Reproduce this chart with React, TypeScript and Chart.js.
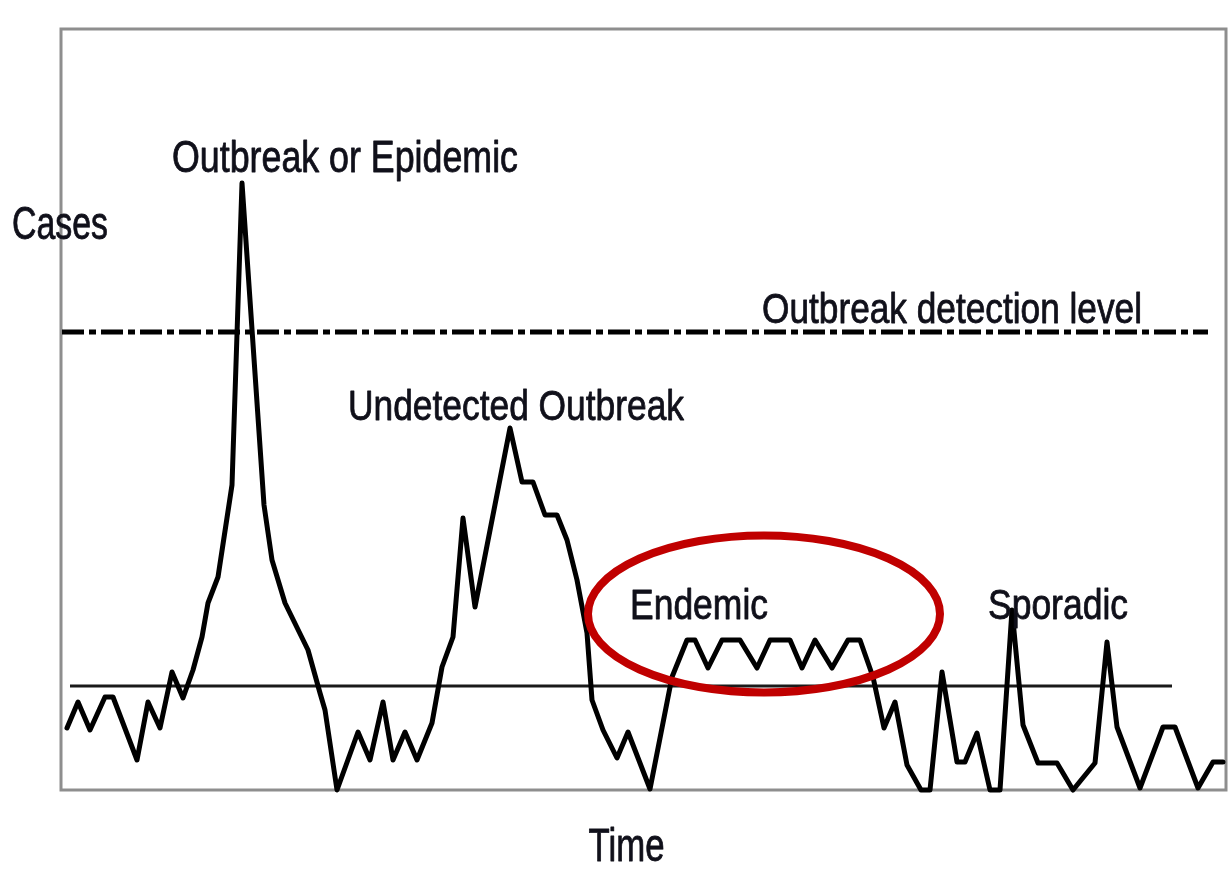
import React, { useEffect, useRef } from "react";
import { Chart, registerables } from "chart.js";

Chart.register(...registerables);

// Time (arbitrary units) and number of cases
const timeValues = [
  0.6, 1.7, 2.9, 4.4, 5.2, 7.6, 8.7, 9.9, 11.1, 12.2, 13.2, 14.1, 14.7, 15.7, 17.1, 18.1,
  20.3, 21.1, 22.4, 24.7, 25.9, 26.4, 27.6, 29.7, 30.9, 32.2, 33.2, 34.4, 35.6, 37.1, 38.1,
  39.2, 40.2, 41.4, 44.9, 46.1, 47.2, 48.4, 49.6, 50.6, 51.6, 52.6, 53.1, 54.2, 55.6, 56.7,
  58.9, 61.1, 62.6, 63.4, 64.7, 66.1, 67.9, 69.6, 70.9, 72.9, 74.1, 75.4, 77.1, 78.7, 79.9,
  81.2, 82.3, 83.4, 84.6, 86.0, 86.9, 88.1, 89.6, 90.4, 91.6, 92.9, 93.9, 95.1, 96.2, 97.7,
  99.6, 101.2, 103.4, 104.6, 105.6, 107.9, 110.2, 111.4, 113.7, 115.2, 116.2,
];
const caseValues = [
  6.2, 8.8, 6.0, 9.3, 9.3, 3.0, 8.8, 6.2, 11.8, 9.2, 12.0, 15.3, 18.7, 21.3, 30.5, 60.7,
  28.5, 23.0, 18.7, 14.0, 9.7, 8.0, 0.0, 5.8, 3.0, 8.8, 3.0, 5.8, 3.0, 6.7, 12.3,
  15.3, 27.2, 18.3, 36.2, 30.8, 30.8, 27.5, 27.5, 25.0, 21.0, 15.7, 9.0, 6.0, 3.2, 5.8,
  0.1, 11.3, 15.0, 15.0, 12.2, 15.0, 15.0, 12.2, 15.0, 15.0, 12.2, 15.0, 12.2, 15.0, 15.0,
  11.3, 6.2, 8.8, 2.5, 0.0, 0.0, 11.8, 2.8, 2.8, 5.7, 0.0, 0.0, 18.0, 6.5, 2.7,
  2.7, 0.0, 2.7, 14.8, 6.3, 0.2, 6.3, 6.3, 0.2, 2.8, 2.8,
];

// Reference levels
const endemicLevelTime = [0.9, 111.1];
const endemicLevel = 10.4;
const detectionLevelTime = [0.1, 114.7];
const detectionLevel = 45.8;

// Axis extents
const timeMin = 0;
const timeMax = 116.5;
const casesMin = 0;
const casesMax = 76.1;

// In-plot labels: text, anchor time, anchor cases (baseline)
const labelTexts = ["Outbreak or Epidemic", "Undetected Outbreak", "Endemic", "Sporadic", "Outbreak detection level"];
const labelTimes = [28.4, 45.5, 63.8, 99.7, 89.1];
const labelCases = [61.8, 37.0, 17.1, 17.1, 46.7];

// Highlighted (endemic) region: centre time/cases and half-extents
const ellipseCenter = [70.3, 17.6];
const ellipseHalf = [17.6, 7.85];

const xTitle = "Time";
const yTitle = "Cases";

const FONT = '"Liberation Sans Narrow", "Liberation Sans", Arial, sans-serif';
const labelSizes = [44, 43, 42, 42, 42];
const labelWidths = [346, 336, 138, 140, 380];

function drawFitText(ctx: CanvasRenderingContext2D, text: string, cx: number, baseline: number, size: number, width: number) {
  ctx.save();
  ctx.font = `${size}px ${FONT}`;
  const m = ctx.measureText(text).width || 1;
  ctx.translate(cx, baseline);
  ctx.scale(width / m, 1);
  ctx.textAlign = "center";
  ctx.textBaseline = "alphabetic";
  ctx.fillStyle = "#10101a";
  ctx.strokeStyle = "#10101a";
  ctx.lineWidth = 0.8;
  ctx.lineJoin = "round";
  ctx.fillText(text, 0, 0);
  ctx.strokeText(text, 0, 0);
  ctx.restore();
}

const framePlugin = {
  id: "frame",
  beforeDatasetsDraw(chart: any) {
    const { ctx, chartArea } = chart;
    ctx.save();
    ctx.strokeStyle = "#8e8e8e";
    ctx.lineWidth = 3;
    ctx.strokeRect(chartArea.left, chartArea.top, chartArea.right - chartArea.left, chartArea.bottom - chartArea.top);
    ctx.restore();
  },
  afterDatasetsDraw(chart: any) {
    const { ctx, chartArea, scales } = chart;
    const x = scales.x;
    const y = scales.y;
    // ellipse
    const cx = x.getPixelForValue(ellipseCenter[0]);
    const cy = y.getPixelForValue(ellipseCenter[1]);
    const rx = Math.abs(x.getPixelForValue(ellipseCenter[0] + ellipseHalf[0]) - cx);
    const ry = Math.abs(y.getPixelForValue(ellipseCenter[1] + ellipseHalf[1]) - cy);
    ctx.save();
    ctx.beginPath();
    ctx.ellipse(cx, cy, rx, ry, 0, 0, Math.PI * 2);
    ctx.strokeStyle = "#c00000";
    ctx.lineWidth = 8;
    ctx.stroke();
    ctx.restore();
    // labels
    labelTexts.forEach((t, i) => {
      drawFitText(ctx, t, x.getPixelForValue(labelTimes[i]), y.getPixelForValue(labelCases[i]), labelSizes[i], labelWidths[i]);
    });
    // axis titles
    const midX = (chartArea.left + chartArea.right) / 2;
    drawFitText(ctx, xTitle, midX - 17, chartArea.bottom + 71, 46, 76);
    drawFitText(ctx, yTitle, chartArea.left - 1, chartArea.top + 210, 46, 96);
  },
};

export default function App() {
  const ref = useRef<HTMLCanvasElement | null>(null);
  useEffect(() => {
    if (!ref.current) return;
    const cases = timeValues.map((t, i) => ({ x: t, y: caseValues[i] }));
    const chart = new Chart(ref.current, {
      type: "line",
      data: {
        datasets: [
          {
            label: "Cases",
            data: cases,
            borderColor: "#000",
            borderWidth: 5,
            pointRadius: 0,
            tension: 0,
            borderJoinStyle: "round",
            borderCapStyle: "round",
            clip: false,
          },
          {
            label: "Endemic level",
            data: endemicLevelTime.map((t) => ({ x: t, y: endemicLevel })),
            borderColor: "#1a1a1a",
            borderWidth: 3,
            pointRadius: 0,
          },
          {
            label: "Outbreak detection level",
            data: detectionLevelTime.map((t) => ({ x: t, y: detectionLevel })),
            borderColor: "#000",
            borderWidth: 5,
            borderDash: [22, 5, 7, 5],
            pointRadius: 0,
          },
        ],
      },
      options: {
        animation: false,
        responsive: false,
        devicePixelRatio: 1,
        layout: { padding: { left: 61, right: 2, top: 29, bottom: 89 } },
        plugins: { legend: { display: false }, tooltip: { enabled: false } },
        scales: {
          x: { type: "linear", min: timeMin, max: timeMax, display: false },
          y: { type: "linear", min: casesMin, max: casesMax, display: false },
        },
      },
      plugins: [framePlugin],
    });
    return () => chart.destroy();
  }, []);
  return (
    <div style={{ position: "absolute", left: 0, top: 0, width: 1228, height: 879, background: "#fff" }}>
      <canvas ref={ref} width={1228} height={879} />
    </div>
  );
}
